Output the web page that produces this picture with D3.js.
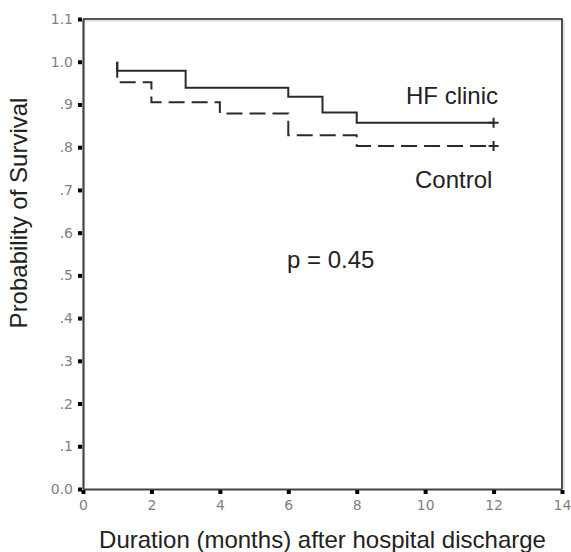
<!DOCTYPE html>
<html>
<head>
<meta charset="utf-8">
<script src="https://cdn.jsdelivr.net/npm/d3@7"></script>
<style>
  body { margin: 0; background: #fff; }
  .lbl { font-family: "Liberation Sans", Arial, sans-serif; font-size: 24px; fill: #222; }
</style>
</head>
<body>
<div id="chart-area"></div>
<script>
// Kaplan-Meier steps
const hfTimes = [1, 1, 3, 6, 7, 8, 12];
const hfSurv = [1.0, 0.979, 0.939, 0.918, 0.881, 0.857, 0.857];
const ctrlTimes = [1, 1, 2, 4, 6, 8, 12];
const ctrlSurv = [1.0, 0.952, 0.905, 0.879, 0.828, 0.803, 0.803];

const xTicks = [0, 2, 4, 6, 8, 10, 12, 14];
const yTicks = [0, 0.1, 0.2, 0.3, 0.4, 0.5, 0.6, 0.7, 0.8, 0.9, 1.0, 1.1];

const W = 571, H = 552;
const plotL = 83, plotR = 562, plotT = 19, plotB = 489;

const svg = d3.select("#chart-area")
  .append("svg")
    .attr("width", W)
    .attr("height", H);

const x = d3.scaleLinear().domain([0, 14]).range([plotL, plotR]);
const y = d3.scaleLinear().domain([0, 1.1]).range([plotB, plotT]);

// frame: top and right
svg.append("path")
  .attr("d", `M${plotL},${plotT}H${plotR}V${plotB}`)
  .attr("fill", "none")
  .attr("stroke", "#222")
  .attr("stroke-width", 1.6);
svg.append("path")
  .attr("d", `M${plotL},${plotT + 2}H${plotR - 1}`)
  .attr("stroke", "#ccc")
  .attr("stroke-width", 1);
svg.append("path")
  .attr("d", `M${plotR + 2},${plotT + 1}V${plotB}`)
  .attr("stroke", "#ccc")
  .attr("stroke-width", 1);

const yFmt = d => (d === 0 ? "0.0" : d >= 1 ? d.toFixed(1) : d.toFixed(1).slice(1));

const yAxis = svg.append("g")
  .attr("transform", `translate(${plotL},0)`)
  .call(d3.axisLeft(y).tickValues(yTicks).tickFormat(yFmt)
    .tickSizeInner(4).tickSizeOuter(0).tickPadding(6));

const xAxis = svg.append("g")
  .attr("transform", `translate(0,${plotB})`)
  .call(d3.axisBottom(x).tickValues(xTicks).tickFormat(d3.format("d"))
    .tickSizeInner(4).tickSizeOuter(0).tickPadding(7));

[yAxis, xAxis].forEach(a => {
  a.select(".domain").attr("stroke", "#444").attr("stroke-width", 2.2);
  a.selectAll(".tick line").attr("stroke", "#000").attr("stroke-width", 4);
  a.selectAll(".tick text")
    .style("font-family", "DejaVu Sans, sans-serif")
    .style("font-size", "14px")
    .style("fill", "#808080");
});
yAxis.selectAll(".tick line").attr("transform", "translate(-1,0)");
xAxis.selectAll(".tick line").attr("transform", "translate(0,1)");

// curves
const line = d3.line()
  .x(d => x(d[0]))
  .y(d => y(d[1]))
  .curve(d3.curveStepAfter);

svg.append("path")
  .datum(hfTimes.map((t, i) => [t, hfSurv[i]]))
  .attr("d", line)
  .attr("fill", "none")
  .attr("stroke", "#2a2a2a")
  .attr("stroke-width", 2);

svg.append("path")
  .datum(ctrlTimes.map((t, i) => [t, ctrlSurv[i]]))
  .attr("d", line)
  .attr("fill", "none")
  .attr("stroke", "#2a2a2a")
  .attr("stroke-width", 2)
  .attr("stroke-dasharray", "16,7");

// censor marks at the end
[[hfTimes, hfSurv], [ctrlTimes, ctrlSurv]].forEach(([t, s]) => {
  const cx = x(t[t.length - 1]), cy = y(s[s.length - 1]);
  svg.append("path")
    .attr("d", `M${cx - 5},${cy}H${cx + 5}M${cx},${cy - 5}V${cy + 5}`)
    .attr("stroke", "#2a2a2a")
    .attr("stroke-width", 2);
});

// labels
svg.append("text").attr("class", "lbl")
  .attr("x", 406).attr("y", 104)
  .text("HF clinic");

svg.append("text").attr("class", "lbl")
  .attr("x", 415).attr("y", 188)
  .text("Control");

svg.append("text").attr("class", "lbl")
  .attr("x", 287).attr("y", 268)
  .text("p = 0.45");

svg.append("text").attr("class", "lbl")
  .attr("x", (plotL + plotR) / 2)
  .attr("y", 548)
  .attr("text-anchor", "middle")
  .text("Duration (months) after hospital discharge");

svg.append("text").attr("class", "lbl")
  .attr("transform", "rotate(-90)")
  .attr("x", -213)
  .attr("y", 27)
  .attr("text-anchor", "middle")
  .text("Probability of Survival");
</script>
</body>
</html>
